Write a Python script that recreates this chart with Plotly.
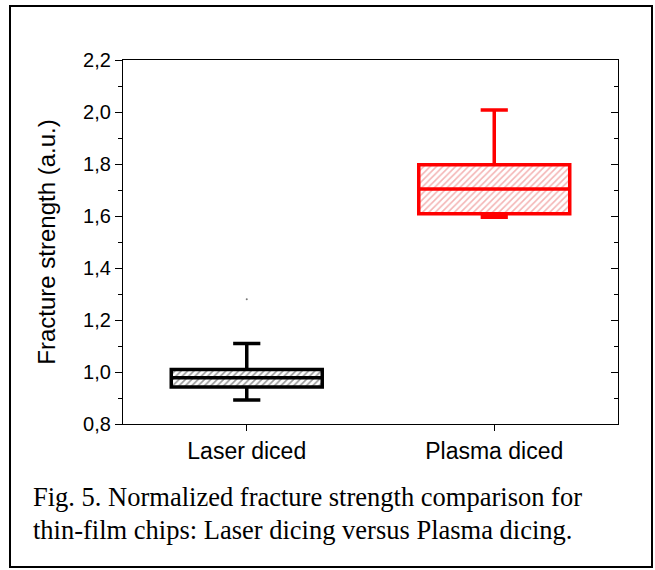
import plotly.graph_objects as go

# ---- data ----
categories = ["Laser diced", "Plasma diced"]
q1_vals = [0.942, 1.609]
median_vals = [0.978, 1.704]
q3_vals = [1.010, 1.797]
lower_vals = [0.892, 1.595]
upper_vals = [1.110, 2.008]
outlier_cat = ["Laser diced"]
outlier_vals = [1.28]
ytick_vals = [0.8, 1.0, 1.2, 1.4, 1.6, 1.8, 2.0, 2.2]
ytick_text = ["0,8", "1,0", "1,2", "1,4", "1,6", "1,8", "2,0", "2,2"]
line_colors = ["#000000", "#ff0000"]
hatch_colors = ["#333333", "#e86a6a"]
caption_lines = ["Fig. 5. Normalized fracture strength comparison for",
                 "thin-film chips: Laser dicing versus Plasma dicing."]

W, H = 655, 570
L, R, T, B = 123, 37, 60, 146
pw, ph = W - L - R, H - T - B

def px_x(x):
    return (x - L) / pw

def px_y(y):
    return (H - B - y) / ph

fig = go.Figure()

# hatched fill of boxes
fig.add_trace(go.Bar(
    x=categories,
    y=[q3 - q1 for q1, q3 in zip(q1_vals, q3_vals)],
    base=q1_vals,
    width=0.61,
    marker=dict(color="white",
                line=dict(width=0),
                pattern=dict(shape="/", fgcolor=hatch_colors, bgcolor="white",
                             size=4.5, solidity=0.35)),
    showlegend=False, hoverinfo="skip",
))

for i, c in enumerate(categories):
    fig.add_trace(go.Box(
        x=[c], q1=[q1_vals[i]], median=[median_vals[i]], q3=[q3_vals[i]],
        lowerfence=[lower_vals[i]], upperfence=[upper_vals[i]],
        line=dict(color=line_colors[i], width=3.5),
        fillcolor="rgba(0,0,0,0)",
        width=0.61, whiskerwidth=0.18,
        boxpoints=False, showlegend=False, hoverinfo="skip",
    ))

fig.add_trace(go.Scatter(
    x=outlier_cat, y=outlier_vals, mode="markers",
    marker=dict(size=2, color="#777777"), showlegend=False,
))

# invisible trace for right axis
fig.add_trace(go.Scatter(x=categories, y=[None, None], yaxis="y2",
                         showlegend=False, hoverinfo="skip"))

font_sans = "Liberation Sans, Arial, sans-serif"
font_serif = "Liberation Serif, Times New Roman, serif"

fig.update_layout(
    width=W, height=H,
    margin=dict(l=L, r=R, t=T, b=B),
    paper_bgcolor="white", plot_bgcolor="white",
    barmode="overlay", boxmode="overlay",
    showlegend=False,
    xaxis=dict(
        type="category", range=[-0.5, 1.5],
        showline=True, linecolor="black", linewidth=1.3, mirror=True,
        ticks="outside", ticklen=6, tickcolor="black", tickwidth=1.3,
        showgrid=False, zeroline=False,
        tickfont=dict(family=font_sans, size=23, color="black"),
    ),
    yaxis=dict(
        range=[0.8, 2.2],
        tickvals=ytick_vals, ticktext=ytick_text,
        showline=True, linecolor="black", linewidth=1.3, mirror=True,
        ticks="outside", ticklen=7, tickcolor="black", tickwidth=1.3,
        minor=dict(ticks="outside", ticklen=4, tickcolor="black", tickwidth=1.3, dtick=0.1, showgrid=False),
        showgrid=False, zeroline=False,
        tickfont=dict(family=font_sans, size=20, color="black"),
        title=dict(text="Fracture strength (a.u.)",
                   font=dict(family=font_sans, size=24, color="black"), standoff=20),
    ),
    yaxis2=dict(
        range=[0.8, 2.2], overlaying="y", side="right",
        tickvals=ytick_vals, showticklabels=False,
        ticks="inside", ticklen=7, tickcolor="black", tickwidth=1.3,
        minor=dict(ticks="inside", ticklen=4, tickcolor="black", tickwidth=1.3, dtick=0.1, showgrid=False),
        showgrid=False, zeroline=False, showline=False,
    ),
    shapes=[dict(type="rect", xref="paper", yref="paper",
                 x0=px_x(10), x1=px_x(652), y0=px_y(567), y1=px_y(6),
                 line=dict(color="black", width=2), layer="below")],
    annotations=[
        dict(xref="paper", yref="paper", x=px_x(31), y=px_y(y),
             xanchor="left", yanchor="middle", align="left", showarrow=False,
             text=t, font=dict(family=font_serif, size=26.5, color="black"))
        for t, y in zip(caption_lines, [497, 530])
    ],
)

fig.write_html("out.html", config={"displayModeBar": False},
               post_script="document.body.style.margin='0';")
